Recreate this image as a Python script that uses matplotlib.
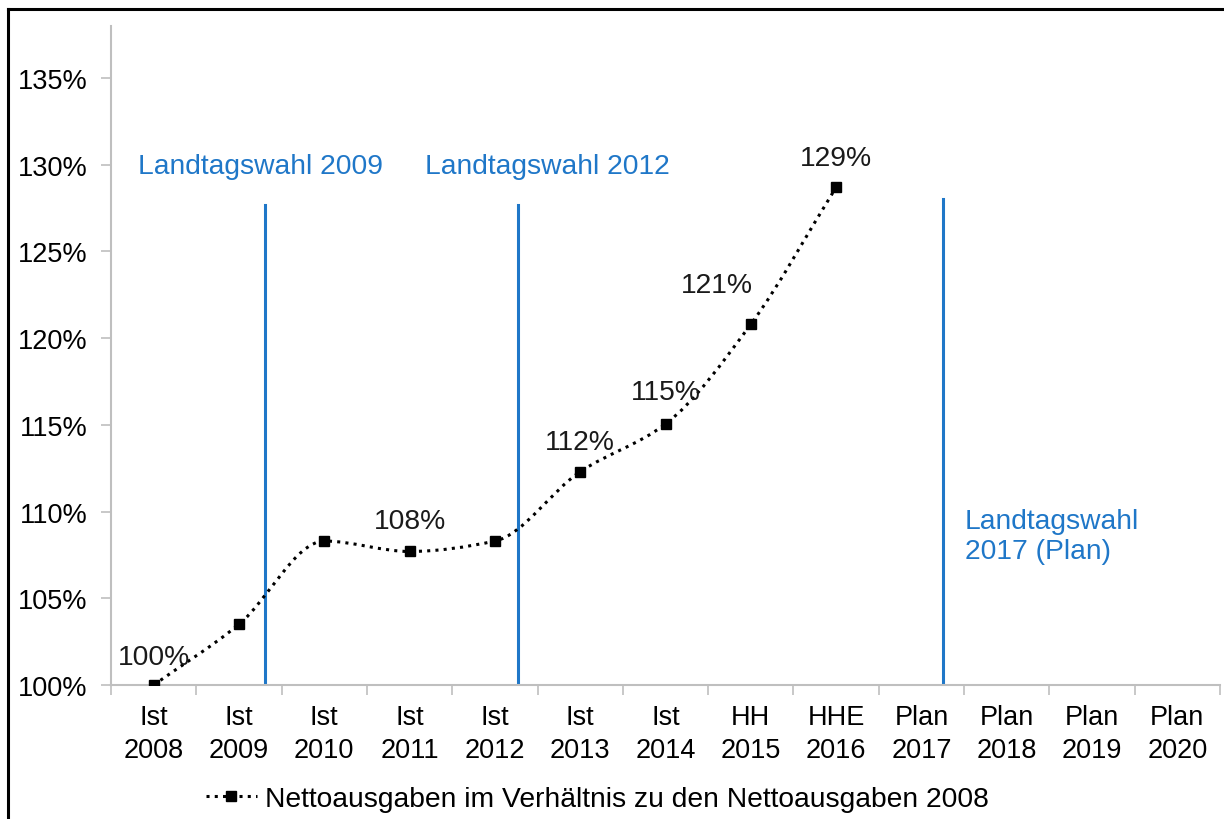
import matplotlib

matplotlib.use("Agg")
import matplotlib.pyplot as plt
import numpy as np
from matplotlib.lines import Line2D
from matplotlib.path import Path
from matplotlib.patches import PathPatch

plt.rcParams["font.family"] = ["Liberation Sans", "DejaVu Sans"]

# Daten
categories = ["Ist\n2008", "Ist\n2009", "Ist\n2010", "Ist\n2011", "Ist\n2012",
              "Ist\n2013", "Ist\n2014", "HH\n2015", "HHE\n2016", "Plan\n2017",
              "Plan\n2018", "Plan\n2019", "Plan\n2020"]
ratio = [100.0, 103.5, 108.3, 107.7, 108.3, 112.3, 115.05, 120.8, 128.7]
label_idx = [0, 3, 5, 6, 7, 8]
label_text = ["100%", "108%", "112%", "115%", "121%", "129%"]
events = ["Landtagswahl 2009", "Landtagswahl 2012", "Landtagswahl\n2017 (Plan)"]
event_x = [1.3, 4.27, 9.25]
event_top = [127.7, 127.7, 128.0]
legend_name = "Nettoausgaben im Verhältnis zu den Nettoausgaben 2008"

# Layout der Beschriftungen
label_offsets = [(0, 20), (0, 22), (0, 21.5), (0, 23), (-24.5, 28), (0, 21)]
event_text_pos = [(-0.18, 129.9), (3.18, 129.9), (9.51, 108.6)]

blue = "#1F77C8"
gray = "#BFBFBF"
fs = 19.5
fs_txt = 20.3

fig = plt.figure(figsize=(12.24, 8.2), dpi=100)
ax = fig.add_axes([111 / 1224, 1 - 686 / 820, (1220 - 111) / 1224, (686 - 27) / 820])

# geglaettete Linie (monotone kubische Interpolation als Bezier)
x = np.arange(len(ratio), dtype=float)
y = np.array(ratio)
h = np.diff(x)
d = np.diff(y) / h
m = np.zeros_like(y)
m[0], m[-1] = d[0], d[-1]
for i in range(1, len(y) - 1):
    if d[i - 1] * d[i] > 0:
        w1 = 2 * h[i] + h[i - 1]
        w2 = h[i] + 2 * h[i - 1]
        m[i] = (w1 + w2) / (w1 / d[i - 1] + w2 / d[i])
verts = [(x[0], y[0])]
codes = [Path.MOVETO]
for i in range(len(y) - 1):
    verts += [(x[i] + h[i] / 3, y[i] + m[i] * h[i] / 3),
              (x[i + 1] - h[i] / 3, y[i + 1] - m[i + 1] * h[i] / 3),
              (x[i + 1], y[i + 1])]
    codes += [Path.CURVE4] * 3
ax.add_patch(PathPatch(Path(verts, codes), facecolor="none", edgecolor="black",
                       lw=2.2, linestyle=(0, (1, 1.7)), zorder=3))
ax.plot(x, y, "s", color="black", markersize=7, zorder=4)

for i, t, off in zip(label_idx, label_text, label_offsets):
    ax.annotate(t, (x[i], y[i]), xytext=off, textcoords="offset points",
                ha="center", va="center", fontsize=fs_txt, color="#1a1a1a")

# Wahltermine
for ex, top in zip(event_x, event_top):
    ax.plot([ex, ex], [100, top], color=blue, lw=2.2, zorder=2)
for t, (tx, ty) in zip(events, event_text_pos):
    ax.text(tx, ty, t, ha="left", va="center", fontsize=fs_txt, color=blue,
            linespacing=1.2)

ax.set_xlim(-0.5, len(categories) - 0.5)
ax.set_ylim(100, 138)
ax.set_yticks(range(100, 136, 5))
ax.set_yticklabels([f"{v}%" for v in range(100, 136, 5)])
ax.set_xticks(range(len(categories)))
ax.set_xticklabels(categories, linespacing=1.35)
ax.set_xticks(np.arange(-0.5, len(categories), 1), minor=True)
ax.tick_params(axis="x", which="major", length=0, pad=14, labelsize=fs)
ax.tick_params(axis="x", which="minor", length=7, width=1.2, color=gray,
               direction="out")
ax.tick_params(axis="y", length=7, width=1.2, color=gray, pad=10, labelsize=fs)
for s in ["top", "right"]:
    ax.spines[s].set_visible(False)
for s in ["left", "bottom"]:
    ax.spines[s].set_color(gray)
    ax.spines[s].set_linewidth(1.5)

handle = Line2D([], [], color="black", lw=2.2, linestyle=(0, (1, 1.7)),
                marker="s", markersize=7)
fig.legend([handle], [legend_name], loc="center", bbox_to_anchor=(0.488, 0.024),
           frameon=False, fontsize=fs_txt, handlelength=1.8, handletextpad=0.3)

# Rahmen oben und links
fig.add_artist(Line2D([8 / 1224, 1], [1 - 10 / 820, 1 - 10 / 820],
                      transform=fig.transFigure, color="black", lw=2.2))
fig.add_artist(Line2D([8 / 1224, 8 / 1224], [0, 1 - 10 / 820],
                      transform=fig.transFigure, color="black", lw=2.2))

fig.savefig("out.png", dpi=100)
